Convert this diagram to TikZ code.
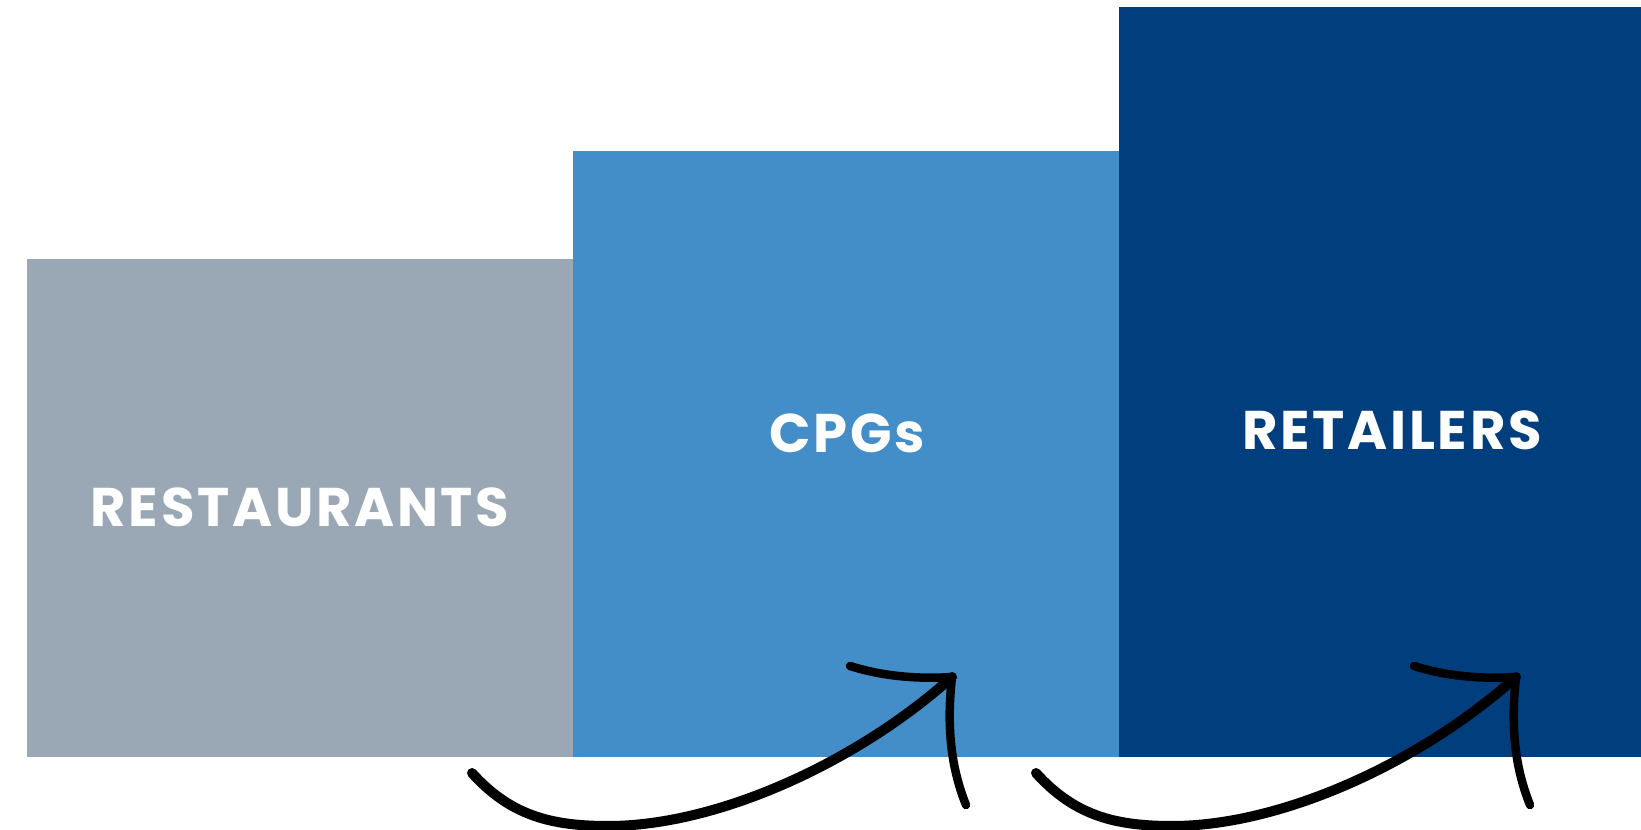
\documentclass[tikz,border=0pt]{standalone}
\usepackage{fontspec}
\setmainfont{Poppins}[LetterSpace=5]
\usepackage{tikz}
\usetikzlibrary{positioning, calc}
\definecolor{restgray}{HTML}{9AA8B5}
\definecolor{cpgblue}{HTML}{438DC8}
\definecolor{retailnavy}{HTML}{003E7E}
\tikzset{
    bar/.style={rectangle, draw=none, outer sep=0pt, inner sep=0pt},
    barlabel/.style={text=white, font=\bfseries\fontsize{31}{31}\selectfont, anchor=base},
    sketch/.style={line width=0.2cm, line cap=round, line join=round, black},
    sketchhead/.style={line width=0.17cm, line cap=round, black},
}

\begin{document}
\begin{tikzpicture}[x=0.02cm, y=-0.02cm]
    \useasboundingbox (0,0) rectangle (1641,830);

    \node[bar, fill=restgray, minimum width=10.92cm, minimum height=9.96cm, anchor=south west] (rest) at (27,757) {};
    \node[bar, fill=cpgblue, minimum width=10.92cm, minimum height=12.12cm, right=0pt of rest.south east, anchor=south west] (cpg) {};
    \node[bar, fill=retailnavy, minimum width=10.44cm, minimum height=15cm, right=0pt of cpg.south east, anchor=south west] (retail) {};

    \node[barlabel] (restlbl) at (300,527) {RESTAURANTS};
    \node[barlabel] (cpglbl) at (847,453) {CPGs};
    \node[barlabel] (retaillbl) at (1392,450) {RETAILERS};

    \foreach \i/\dx in {1/0, 2/564} {
      \begin{scope}[xshift=\dx*0.02cm]
        \coordinate (tail\i) at (472,773);
        \coordinate (tip\i) at (952,677);
        \draw[sketch] (tail\i) .. controls (510,815) and (550,826) .. (608,826)
                               .. controls (720,826) and (860,760) .. (tip\i);
        \draw[sketchhead] (850,666) .. controls (885,677) and (920,679) .. (tip\i);
        \draw[sketchhead] (tip\i) .. controls (946,730) and (952,770) .. (966,805);
      \end{scope}
    }
\end{tikzpicture}
\end{document}
